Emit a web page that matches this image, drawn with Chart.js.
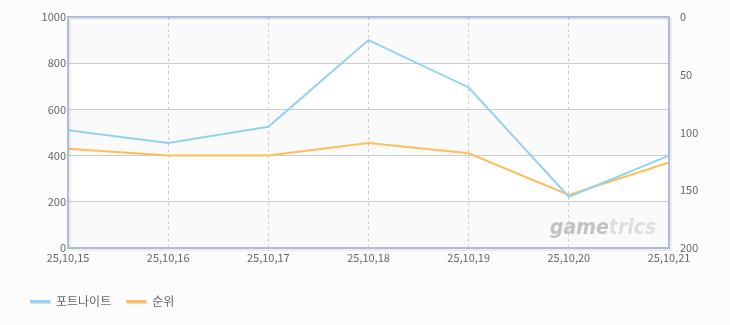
<!DOCTYPE html>
<html>
<head>
<meta charset="utf-8">
<script src="https://cdn.jsdelivr.net/npm/chart.js@4/dist/chart.umd.min.js"></script>
<style>
  html, body { margin: 0; padding: 0; background: #fcfcfc; }
  #wrap { width: 730px; height: 325px; position: relative; }
</style>
</head>
<body>
<div id="wrap"><canvas id="trendChart" width="730" height="325"></canvas></div>
<script>
// dates on the x axis
const DATES = ["25,10,15", "25,10,16", "25,10,17", "25,10,18", "25,10,19", "25,10,20", "25,10,21"];
// left axis series
const FORTNITE = [510, 455, 525, 900, 695, 222, 400];
// right axis series (rank, reversed)
const RANK = [114, 120, 120, 109, 118, 154, 126];

const FONT = "'Noto Sans CJK KR', 'DejaVu Sans', sans-serif";
const TICK_COLOR = "#666";

// alternating bands + frame + watermark + legend
const decorPlugin = {
  id: "decor",
  beforeDraw(chart) {
    const { ctx, chartArea: a, scales } = chart;
    const y = scales.y;
    ctx.save();
    const steps = [1000, 800, 600, 400, 200, 0];
    for (let i = 0; i < steps.length - 1; i++) {
      const top = y.getPixelForValue(steps[i]);
      const bot = y.getPixelForValue(steps[i + 1]);
      ctx.fillStyle = i % 2 === 0 ? "#fafafa" : "#ffffff";
      ctx.fillRect(a.left, top, a.right - a.left, bot - top);
    }
    // watermark
    ctx.translate(550, 234);
    ctx.scale(0.86, 1);
    ctx.font = "italic bold 22px 'DejaVu Sans', sans-serif";
    ctx.textBaseline = "alphabetic";
    ctx.fillStyle = "#c2c2c2";
    ctx.fillText("game", 0, 0);
    const w = ctx.measureText("game").width;
    ctx.fillStyle = "#dedede";
    ctx.fillText("trics", w, 0);
    ctx.restore();
  },
  afterDraw(chart) {
    const { ctx, chartArea: a } = chart;
    ctx.save();
    // soft shadow
    ctx.strokeStyle = "rgba(0,0,0,0.06)";
    ctx.lineWidth = 2;
    ctx.strokeRect(a.left + 2, a.top + 2, a.right - a.left, a.bottom - a.top);
    ctx.strokeStyle = "#abbed6";
    ctx.lineWidth = 2;
    ctx.strokeRect(a.left, a.top, a.right - a.left, a.bottom - a.top);

    // legend
    let x = 30;
    const ly = 300;
    ctx.font = "12px " + FONT;
    ctx.textBaseline = "middle";
    chart.data.datasets.forEach(ds => {
      ctx.fillStyle = "#dddddd";
      ctx.fillRect(x + 1, ly + 1, 20, 3);
      ctx.fillStyle = ds.borderColor;
      ctx.fillRect(x, ly, 20, 3);
      ctx.fillStyle = "#666";
      ctx.fillText(ds.label, x + 26, ly + 1);
      x += 26 + ctx.measureText(ds.label).width + 15;
    });
    ctx.restore();
  }
};

new Chart(document.getElementById("trendChart"), {
  type: "line",
  data: {
    labels: DATES,
    datasets: [
      {
        label: "포트나이트",
        data: FORTNITE,
        yAxisID: "y",
        borderColor: "#92d3f2",
        borderWidth: 2,
        pointRadius: 0,
        tension: 0
      },
      {
        label: "순위",
        data: RANK,
        yAxisID: "y2",
        borderColor: "#ffbd5c",
        borderWidth: 2,
        pointRadius: 0,
        tension: 0
      }
    ]
  },
  options: {
    responsive: false,
    animation: false,
    layout: { padding: { top: 17, left: 0, right: 0, bottom: 0 } },
    plugins: { legend: { display: false }, tooltip: { enabled: false } },
    scales: {
      x: {
        offset: false,
        grid: { color: "#cccccc", drawTicks: false },
        border: { display: false, dash: [3, 3] },
        ticks: { color: TICK_COLOR, font: { size: 11, family: FONT }, padding: 3, maxRotation: 0, autoSkip: false },
        afterFit(s) { s.height = 77; }
      },
      y: {
        position: "left",
        min: 0, max: 1000,
        grid: { color: "#cccccc", drawTicks: false },
        border: { display: false },
        ticks: { stepSize: 200, color: TICK_COLOR, font: { size: 11, family: FONT }, padding: 2, callback: v => String(v) },
        afterFit(s) { s.width = 68; }
      },
      y2: {
        position: "right",
        min: 0, max: 200,
        reverse: true,
        grid: { display: false },
        border: { display: false },
        ticks: { stepSize: 50, color: TICK_COLOR, font: { size: 11, family: FONT }, padding: 3, callback: v => String(v) },
        afterFit(s) { s.width = 61; }
      }
    }
  },
  plugins: [decorPlugin]
});
</script>
</body>
</html>
